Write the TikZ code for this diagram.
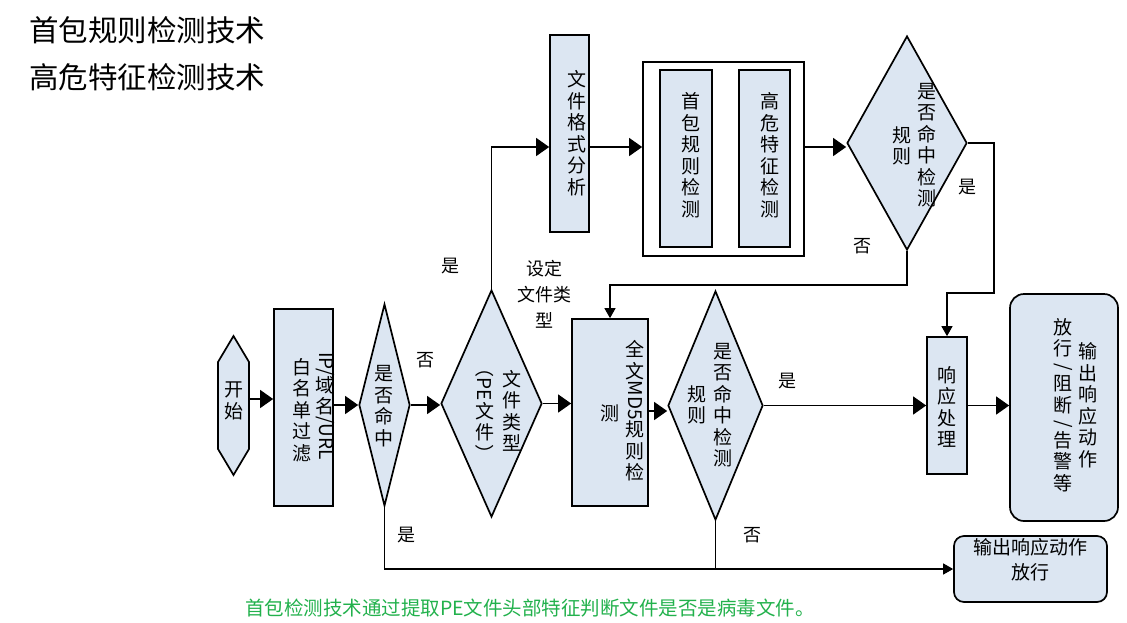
\documentclass[tikz,border=0pt]{standalone}
\usepackage{fontspec}
\usepackage{graphicx}
\newfontfamily\cjk{Noto Sans CJK SC}
\usetikzlibrary{shapes.geometric,arrows.meta}
\definecolor{nodefill}{RGB}{220,230,242}
\definecolor{capgreen}{RGB}{34,177,76}
\newcommand{\rot}[1]{\rotatebox[origin=c]{-90}{#1}}
\tikzset{
  box/.style={draw, fill=nodefill, line width=1.7pt, inner sep=0pt},
  dia/.style={diamond, draw, fill=nodefill, line width=1.7pt, inner sep=0pt},
  conn/.style={line width=1.3pt},
  arr/.style={conn, -{Triangle[length=13pt,width=18pt]}},
  arrs/.style={conn, -{Triangle[length=10pt,width=11pt]}},
  lbl/.style={font=\cjk\fontsize{18}{21}\selectfont, inner sep=0pt},
  vt/.style={font=\cjk\fontsize{19}{21.5}\selectfont, align=center, inner sep=0pt},
}
\begin{document}
\begin{tikzpicture}[x=1pt,y=-1pt]
\useasboundingbox (0,0) rectangle (1127,622);
% titles
\node[anchor=west, font=\cjk\fontsize{29.5}{31}\selectfont, inner sep=0pt] (t1) at (29,30) {首包规则检测技术};
\node[anchor=west, font=\cjk\fontsize{29.5}{31}\selectfont, inner sep=0pt] (t2) at (29,77) {高危特征检测技术};
% start
\draw[fill=nodefill, line width=1.7pt] (233.5,336)--(249,362)--(249,449)--(233.5,475)--(218,449)--(218,362)--cycle;
\node[minimum width=31pt, minimum height=139pt, inner sep=0pt] (start) at (233.5,405.5) {};
\node[vt] (startt) at (234,401) {开\\始};
% boxes
\node[box, minimum width=59pt, minimum height=197pt] (box1) at (303.5,407.5) {};
\node[dia, minimum width=51pt, minimum height=202pt] (d1) at (384.5,405) {};
\node[dia, minimum width=101pt, minimum height=227pt] (d2) at (491.5,403.5) {};
\node[box, minimum width=76pt, minimum height=187pt] (md5) at (610,412.5) {};
\node[dia, minimum width=95pt, minimum height=229pt] (d3) at (715.5,405.5) {};
\node[box, minimum width=39pt, minimum height=197pt] (fmt) at (569.5,133.5) {};
\node[draw, fill=white, line width=1.7pt, inner sep=0pt, minimum width=161pt, minimum height=194pt] (outer) at (723.5,159) {};
\node[box, minimum width=52pt, minimum height=177pt] (in1) at (686,158.5) {};
\node[box, minimum width=51pt, minimum height=177pt] (in2) at (764.5,158.5) {};
\node[dia, minimum width=120pt, minimum height=214pt] (d4) at (907,143) {};
\node[box, minimum width=40pt, minimum height=137pt] (resp) at (947,405.5) {};
\node[box, rounded corners=14pt, minimum width=108pt, minimum height=227pt] (out) at (1064,407.5) {};
\node[box, rounded corners=10pt, minimum width=153pt, minimum height=66pt] (bot) at (1030.5,569) {};
% node texts
\node[vt] (b1r) at (325,406) {\rot{IP/}\\域\\名\\\rot{/URL}};
\node[vt] (b1l) at (302,410) {白\\名\\单\\过\\滤};
\node[vt] (d1t) at (384,406) {是\\否\\命\\中};
\node[vt] (d2r) at (512,411) {文\\件\\类\\型};
\node[vt] (d2l) at (485,411) {\rot{（PE}\\文\\件\\\rot{）}};
\node[vt] (m5r) at (635,411) {全\\文\\\rot{MD5}\\规\\则\\检};
\node[vt] (m5l) at (610,413) {测};
\node[vt] (d3r) at (723,405) {是\\否\\命\\中\\检\\测};
\node[vt] (d3l) at (697,405) {规\\则};
\node[vt] (fmtt) at (577,133) {文\\件\\格\\式\\分\\析};
\node[vt] (in1t) at (691,155) {首\\包\\规\\则\\检\\测};
\node[vt] (in2t) at (770,155) {高\\危\\特\\征\\检\\测};
\node[vt] (d4r) at (927,145) {是\\否\\命\\中\\检\\测};
\node[vt] (d4l) at (902,146) {规\\则};
\node[vt] (respt) at (947,407) {响\\应\\处\\理};
\node[vt] (outr) at (1088,405) {输\\出\\响\\应\\动\\作};
\node[vt] (outl) at (1063,405) {放\\行\\[-4pt]\rot{/}\\[-4pt]阻\\断\\[-4pt]\rot{/}\\[-4pt]告\\警\\等};
\node[font=\cjk\fontsize{19}{25}\selectfont, align=center, inner sep=0pt] (bott) at (1030.5,560) {输出响应动作\\放行};
% connectors
\draw[arr] (start.east |- 0,399) -- (box1.west |- 0,399);
\draw[arr] (box1.east |- d1.west) -- (d1.west);
\draw[arr] (d1.east) -- (d2.west |- d1.east);
\draw[arr] (d2.east) -- (md5.west |- d2.east);
\draw[arr] (md5.east |- 0,411) -- (d3.west |- 0,411);
\draw[arr] (d3.east) -- (resp.west |- d3.east);
\draw[arr] (resp.east) -- (out.west |- resp.east);
\draw[arr] (d2.north) |- (fmt.west |- 0,147);
\draw[arr] (fmt.east |- 0,147) -- (outer.west |- 0,147);
\draw[arr] (outer.east |- 0,147) -- (d4.west |- 0,147);
\coordinate (r1) at (994,293);
\coordinate (n1) at (907,285);
\draw[arrs] (d4.east) -| (r1) -| (resp.north);
\draw[arrs] (d4.south) -- (n1) -| (md5.north);
\draw[arrs] (d1.south) |- (bot.west);
\draw[conn] (d3.south) -- (d3.south |- bot.west);
% labels
\node[lbl] (l1) at (425,360) {否};
\node[lbl] (l2) at (450,266) {是};
\node[font=\cjk\fontsize{18}{26}\selectfont, align=center, inner sep=0pt] (l3) at (544,294) {设定\\文件类\\型};
\node[lbl] (l4) at (787,381) {是};
\node[lbl] (l5) at (752,535) {否};
\node[lbl] (l6) at (406,535) {是};
\node[lbl] (l7) at (862,246) {否};
\node[lbl] (l8) at (967,187) {是};
% caption
\node[font=\cjk\fontsize{19.5}{21}\selectfont, text=capgreen, inner sep=0pt] (cap) at (530,608) {首包检测技术通过提取PE文件头部特征判断文件是否是病毒文件。};
\end{tikzpicture}
\end{document}
